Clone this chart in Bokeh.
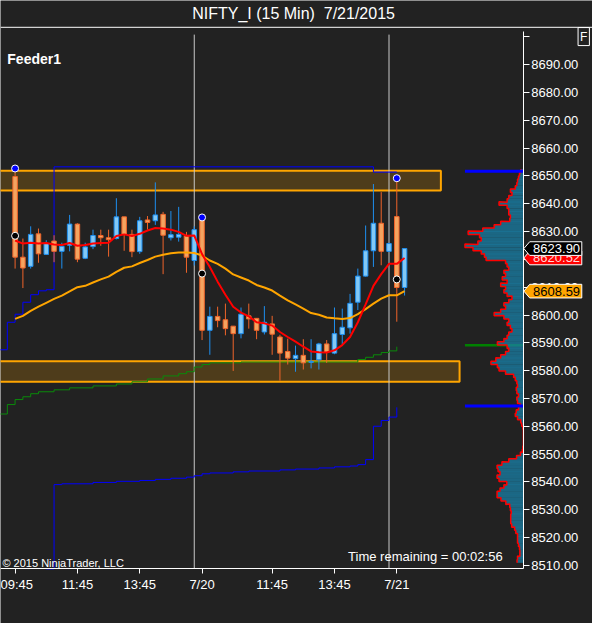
from bokeh.plotting import figure
from bokeh.models import (Range1d, LinearAxis, FixedTicker, NumeralTickFormatter,
                          Label, Span)
from bokeh.core.properties import value
from bokeh.embed import file_html
from bokeh.resources import INLINE

# ---- values ----
bar = list(range(51))   # 15 min bars, 7/17 09:45 .. 7/21 09:45

opens = [8649.8, 8620.8, 8617.5, 8629.2, 8621.8, 8626.6, 8622.9, 8625.1, 8632.7, 8620.4,
         8624.6, 8628.6, 8627.8, 8627.5, 8635.3, 8629.0, 8622.8, 8634.2, 8633.9, 8636.2,
         8627.8, 8628.0, 8628.4, 8619.6, 8634.8, 8594.5, 8599.5, 8598.3, 8596.0, 8593.3,
         8599.7, 8598.8, 8593.9, 8596.8, 8592.1, 8586.9, 8584.3, 8585.5, 8583.0, 8583.9,
         8589.6, 8586.3, 8593.0, 8595.4, 8604.6, 8614.0, 8623.1, 8633.0, 8622.9, 8635.4,
         8609.9]
highs = [8652.7, 8627.5, 8631.9, 8631.1, 8626.9, 8628.7, 8626.0, 8636.0, 8633.0, 8626.0,
         8630.7, 8630.7, 8630.7, 8642.0, 8635.3, 8630.7, 8635.3, 8635.6, 8647.7, 8637.1,
         8637.4, 8638.9, 8629.9, 8631.9, 8635.1, 8603.0, 8603.0, 8604.1, 8596.0, 8602.7,
         8604.1, 8598.8, 8603.2, 8599.7, 8592.9, 8591.5, 8589.0, 8591.3, 8591.3, 8590.0,
         8591.0, 8602.7, 8602.3, 8607.6, 8616.7, 8632.2, 8647.1, 8644.2, 8626.0, 8649.2,
         8623.9]
lows = [8616.7, 8609.7, 8616.7, 8618.8, 8621.6, 8619.0, 8616.7, 8622.9, 8619.0, 8620.1,
        8623.7, 8624.9, 8621.0, 8627.2, 8623.1, 8620.8, 8622.0, 8630.7, 8632.4, 8614.7,
        8626.8, 8626.4, 8615.2, 8617.8, 8591.0, 8585.7, 8595.6, 8592.7, 8579.9, 8591.6,
        8595.1, 8591.3, 8593.0, 8585.7, 8576.4, 8582.2, 8579.6, 8580.4, 8580.8, 8580.4,
        8582.8, 8585.9, 8589.4, 8593.3, 8601.8, 8613.8, 8617.3, 8617.9, 8622.7, 8597.6,
        8607.0]
closes = [8620.8, 8616.9, 8629.0, 8622.0, 8625.7, 8622.9, 8624.7, 8632.7, 8620.1, 8624.5,
          8628.6, 8627.8, 8627.1, 8635.3, 8629.0, 8622.8, 8633.9, 8633.3, 8636.0, 8628.7,
          8628.9, 8629.0, 8620.8, 8630.7, 8594.5, 8599.5, 8598.0, 8595.1, 8593.3, 8600.3,
          8598.6, 8594.5, 8597.4, 8593.1, 8586.3, 8584.5, 8585.5, 8582.8, 8583.3, 8589.6,
          8586.6, 8593.3, 8595.6, 8604.2, 8614.0, 8623.1, 8633.0, 8622.9, 8625.7, 8609.9,
          8623.9]

fast_ma = [8626.8, 8625.7, 8626.0, 8625.7, 8625.9, 8625.4, 8625.2, 8625.9, 8624.9, 8625.2,
           8625.7, 8625.9, 8626.0, 8628.4, 8629.0, 8628.4, 8629.2, 8630.4, 8631.3, 8631.1,
           8630.7, 8629.9, 8628.5, 8628.6, 8621.9, 8617.3, 8612.0, 8607.3, 8603.0, 8600.9,
           8599.5, 8597.4, 8597.0, 8596.2, 8593.9, 8592.1, 8590.4, 8588.6, 8586.9, 8586.6,
           8586.5, 8587.3, 8589.2, 8592.1, 8597.4, 8603.8, 8610.5, 8614.7, 8618.4, 8618.4,
           8620.5]
slow_ma = [8598.6, 8599.7, 8601.5, 8603.0, 8604.4, 8605.8, 8607.0, 8608.5, 8610.0, 8610.5,
           8611.7, 8612.8, 8613.8, 8615.5, 8617.0, 8617.5, 8618.7, 8619.8, 8621.0, 8621.7,
           8622.2, 8622.5, 8622.5, 8622.3, 8621.4, 8619.6, 8618.4, 8616.7, 8614.6, 8613.5,
           8612.4, 8610.8, 8609.9, 8608.8, 8607.0, 8605.3, 8603.8, 8602.3, 8600.7, 8600.1,
           8599.1, 8598.8, 8598.6, 8598.9, 8600.3, 8602.1, 8604.1, 8605.9, 8607.1, 8607.1,
           8608.6]

# session open markers
mark_bar = [0, 24, 49]
mark_high = [8652.7, 8635.1, 8649.2]
mark_mid = [8628.5, 8614.9, 8612.8]

# step lines (bar where the value starts, value)
hi_step_bar = [-2, -1, 0, 1, 2, 3, 4, 5, 46, 49]
hi_step_val = [8587.5, 8597.4, 8600.3, 8604.6, 8607.3, 8608.7, 8609.1, 8653.3, 8651.4, 8651.4]
lo_step_bar = [4, 5, 6, 10, 13, 16, 18, 20, 22, 23, 24, 25, 28, 30, 34, 36, 39, 41, 43,
               44, 45, 46, 47, 48, 49]
lo_step_val = [8508.7, 8539.0, 8539.3, 8539.8, 8540.2, 8540.5, 8540.9, 8541.3, 8541.7,
               8542.2, 8542.9, 8543.2, 8543.6, 8543.9, 8544.3, 8544.6, 8545.0, 8545.4,
               8545.7, 8546.2, 8548.0, 8560.0, 8562.1, 8563.3, 8566.8]
grn_step_bar = [-2, -1, 0, 1, 2, 3, 5, 7, 10, 13, 15, 17, 19, 21, 22, 23, 24, 25, 29,
                44, 45, 46, 47, 48, 49]
grn_step_val = [8564.4, 8567.8, 8569.6, 8570.6, 8571.7, 8572.4, 8573.1, 8573.8, 8574.5,
                8575.2, 8576.0, 8577.0, 8578.1, 8578.9, 8579.6, 8581.3, 8582.2, 8582.8,
                8583.1, 8584.0, 8584.8, 8585.7, 8586.5, 8587.1, 8588.6]

# drawn zones
zone_top = [8651.9, 8583.4]
zone_bottom = [8644.8, 8576.0]
zone_end = [54.66, 57.06]

session_end = [23, 48]

# volume profile (price level, width)
prof_price = [8651.8, 8650.6, 8649.4, 8648.3, 8647.1, 8645.9, 8644.7, 8643.6, 8642.4, 8641.2,
              8640.1, 8638.9, 8637.7, 8636.6, 8635.4, 8634.2, 8633.1, 8631.9, 8630.7, 8629.6,
              8628.4, 8627.2, 8626.0, 8624.9, 8623.7, 8622.5, 8621.4, 8620.2, 8619.0, 8617.9,
              8616.7, 8615.5, 8614.4, 8613.2, 8612.0, 8610.9, 8609.7, 8608.5, 8607.3, 8606.2,
              8605.0, 8603.8, 8602.7, 8601.5, 8600.3, 8599.2, 8598.0, 8596.8, 8595.7, 8594.5,
              8593.3, 8592.1, 8591.0, 8589.8, 8588.6, 8587.5, 8586.3, 8585.1, 8584.0, 8582.8,
              8581.6, 8580.5, 8579.3, 8578.1, 8577.0, 8575.8, 8574.6, 8573.4, 8572.3, 8571.1,
              8569.9, 8568.8, 8567.6, 8566.4, 8565.3, 8564.1, 8562.9, 8561.8, 8560.6, 8559.4,
              8558.3, 8557.1, 8555.9, 8554.7, 8553.6, 8552.4, 8551.2, 8550.1, 8548.9, 8547.7,
              8546.6, 8545.4, 8544.2, 8543.1, 8541.9, 8540.7, 8539.5, 8538.4, 8537.2, 8536.0,
              8534.9, 8533.7, 8532.5, 8531.4, 8530.2, 8529.0, 8527.9, 8526.7, 8525.5, 8524.3,
              8523.2, 8522.0, 8520.8, 8519.7, 8518.5, 8517.3, 8516.2, 8515.0, 8513.8, 8512.7,
              8511.5]
prof_vol = [2.7, 4, 5, 6, 6.7, 8.3, 13.3, 11.7, 15, 16.7,
            25, 16.7, 15, 15, 13.3, 14, 23.3, 30, 41.7, 56.7,
            45, 43.3, 46.7, 60, 51.7, 43.3, 40, 38.3, 18.3, 16.7,
            15, 20, 18.3, 21.7, 16.7, 23.3, 18.3, 20, 16.7, 11.7,
            15, 20, 18.3, 23.3, 30, 20, 15, 16.7, 13.3, 11.7,
            15, 16.7, 20, 26.7, 16.7, 15, 18.3, 23.3, 28.3, 33.3,
            26.7, 25, 18.3, 10, 8.3, 6.7, 6, 7.3, 6.7, 5,
            6.7, 6, 3.3, 5, 7.3, 8.3, 6, 2.7, 1.7, 0.5,
            0, 0, 0, 0, 0, 0.5, 1, 3, 7, 15,
            22, 27, 26, 24, 27, 25, 17, 20, 24, 27,
            27, 23, 18, 14, 13.3, 12.5, 13, 13, 13, 12,
            9, 7.8, 6, 6, 6, 5, 4, 3.6, 3.6, 6,
            6.5]
prof_high, prof_low, prof_poc = 8651.75, 8567.3, 8589.1

# price tags on the axis (drawn in this order)
tag_val = [8620.52, 8623.90, 8608.59]
tag_fill = ["red", "black", "orange"]
tag_text_color = ["#ffd8d8", "white", "black"]

tick_bars = [0, 8, 16, 24, 33, 41, 49]
tick_text = ["09:45", "11:45", "13:45", "7/20", "11:45", "13:45", "7/21"]
price_ticks = [8510, 8520, 8530, 8540, 8550, 8560, 8570, 8580, 8590, 8600,
               8610, 8620, 8630, 8640, 8650, 8660, 8670, 8680, 8690, 8700]

# ---- layout ----
BG = "#222222"
FONT = "Liberation Sans"
W, H = 592, 623
SX, SY = W / 608.0, H / 639.0
PXB, PXP = 8.0, 2.852          # reference pixels per bar / per price point


def bx(xr):                    # reference pixel column -> bar units
    return (xr - 15) / PXB


def py(yr):                    # reference pixel row -> price
    return 8650 - (yr - 180) / PXP


def sx(xr):
    return xr * SX


def sy(yr):
    return (639 - yr) * SY


CX0, CX1 = bx(0), bx(537)      # chart area
CY0, CY1 = py(583), py(32)

p = figure(width=W, height=H, x_range=Range1d(bx(0), bx(608)),
           y_range=Range1d(py(639), py(0)),
           x_axis_location=None, y_axis_location=None, toolbar_location=None,
           output_backend="svg", background_fill_color=BG, border_fill_color=BG,
           min_border=0)
p.outline_line_color = None
p.title.visible = False
p.xgrid.visible = False
p.ygrid.visible = False

xax = LinearAxis(ticker=FixedTicker(ticks=tick_bars), fixed_location=CY0,
                 bounds=(CX0, CX1),
                 major_label_overrides={b: t for b, t in zip(tick_bars, tick_text)})
yax = LinearAxis(ticker=FixedTicker(ticks=price_ticks), fixed_location=CX1,
                 bounds=(CY0, CY1), formatter=NumeralTickFormatter(format="0.00"),
                 major_label_overrides={8700: ""})
for ax in (xax, yax):
    ax.axis_line_color = "white"
    ax.major_tick_line_color = "white"
    ax.minor_tick_line_color = None
    ax.major_tick_in = 0
    ax.major_label_text_color = "white"
    ax.major_label_text_font = FONT
    ax.major_label_text_font_size = "13px"
xax.major_tick_out = 5
xax.major_label_standoff = 3
yax.major_tick_out = 6
yax.major_label_standoff = 2
p.add_layout(xax, "below")
p.add_layout(yax, "right")

# line under the title
p.add_layout(Span(location=py(27.5), dimension="width", line_color="white", line_width=1))

# zones
p.quad(left=CX0 - 2, right=zone_end, top=zone_top, bottom=zone_bottom,
       fill_color="orange", fill_alpha=0.2, line_color="orange", line_width=2)

# session breaks
p.segment(x0=session_end, x1=session_end, y0=CY0, y1=py(35),
          line_color="#c8c8c8", line_width=1)

# step lines
p.step(hi_step_bar, hi_step_val, mode="after", line_color="blue", line_width=1)
p.step(lo_step_bar, lo_step_val, mode="after", line_color="blue", line_width=1)
p.step(grn_step_bar, grn_step_val, mode="after", line_color="#0a8a0a", line_width=1)

# profile
row_h = prof_price[0] - prof_price[1]
prof_left = [CX1 - v / PXB for v in prof_vol]
pl = bx(477)
p.segment(x0=pl, x1=CX1, y0=prof_poc, y1=prof_poc, line_color="green", line_width=2.5)
p.hbar(y=prof_price, left=prof_left, right=CX1, height=row_h * 1.04,
       fill_color="#197fa6", fill_alpha=0.75, line_color=None)
ox, oy = [], []
for pr, lf in zip(prof_price, prof_left):
    ox += [lf, lf]
    oy += [pr + row_h / 2, pr - row_h / 2]
p.line(ox, oy, line_color="red", line_width=1.5)
p.segment(x0=pl, x1=CX1, y0=[prof_high, prof_low], y1=[prof_high, prof_low],
          line_color="blue", line_width=3)

# candles
up = [i for i in bar if closes[i] >= opens[i]]
dn = [i for i in bar if closes[i] < opens[i]]
for idx, wick, fill in ((up, "#1e8ff0", "#82c8f5"), (dn, "#f0642a", "#f4a460")):
    p.segment(x0=idx, x1=idx, y0=[lows[i] for i in idx], y1=[highs[i] for i in idx],
              line_color=wick, line_width=1)
    p.vbar(x=idx, width=0.58, top=[max(opens[i], closes[i]) for i in idx],
           bottom=[min(opens[i], closes[i]) for i in idx],
           fill_color=fill, line_color=wick, line_width=1)

# moving averages
p.line(bar, slow_ma, line_color="orange", line_width=2)
p.line(bar, fast_ma, line_color="red", line_width=2)

p.scatter(mark_bar, mark_high, size=7, fill_color="blue", line_color="white", line_width=1)
p.scatter(mark_bar, mark_mid, size=7, fill_color="black", line_color="white", line_width=1)

# price tags: arrow shaped boxes over the price axis labels
half = 7 / PXP
tip, box_l, box_r = bx(537.5), bx(543.5), bx(597)
for v, fc, tc in zip(tag_val, tag_fill, tag_text_color):
    p.patch([tip, box_l, box_r, box_r, box_l], [v, v + half, v + half, v - half, v - half],
            fill_color=fc, line_color="white", line_width=1, level="overlay")
    p.text(x=[bx(547)], y=[v], text=["%.2f" % v], text_color=tc,
           text_baseline="middle", text_font=value(FONT), text_font_size="13px",
           level="overlay")

# texts
p.add_layout(Label(x=sx(301), y=sy(13.5), x_units="screen", y_units="screen",
                   text="NIFTY_I (15 Min)\u00a0 7/21/2015", text_align="center",
                   text_baseline="middle", text_color="white",
                   text_font=FONT, text_font_size="16px"))
p.add_layout(Label(x=sx(7), y=sy(59.5), x_units="screen", y_units="screen",
                   text="Feeder1", text_baseline="middle", text_color="white",
                   text_font=FONT, text_font_size="14px", text_font_style="bold"))
p.add_layout(Label(x=sx(2), y=sy(577), x_units="screen", y_units="screen",
                   text="\u00a9 2015 NinjaTrader, LLC", text_baseline="middle",
                   text_color="white", text_font=FONT, text_font_size="11px"))
p.add_layout(Label(x=sx(357), y=sy(570.5), x_units="screen", y_units="screen",
                   text="Time remaining = 00:02:56", text_baseline="middle",
                   text_color="white", text_font=FONT, text_font_size="13px"))
p.add_layout(Label(x=sx(599), y=sy(37), x_units="screen", y_units="screen",
                   text="F", text_align="center", text_baseline="middle",
                   text_color="white", text_font=FONT, text_font_size="12px",
                   border_line_color="white", padding=2))

open("out.html", "w").write(file_html(p, INLINE))
